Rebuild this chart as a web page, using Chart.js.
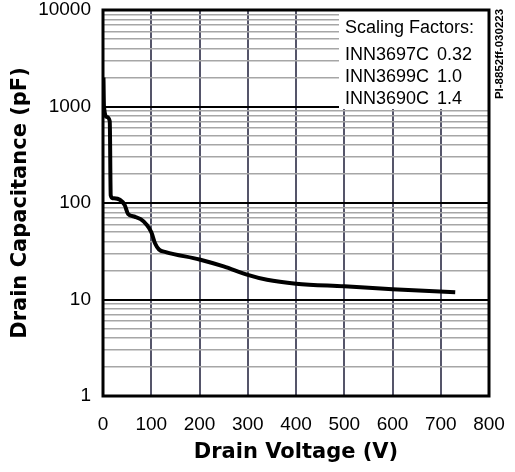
<!DOCTYPE html>
<html>
<head>
<meta charset="utf-8">
<script src="https://cdn.jsdelivr.net/npm/chart.js@4.4.1/dist/chart.umd.min.js"></script>
<style>
  html, body { margin: 0; padding: 0; background: #fff; }
  #wrap { width: 515px; height: 472px; position: relative; }
</style>
</head>
<body>
<div id="wrap"><canvas id="chart"></canvas></div>
<script>
// curve (V, pF)
const drainVoltage = [1, 2, 8, 14, 16, 20, 35, 45, 52, 66, 78, 90, 100, 108, 116, 130, 200, 250, 300, 340, 400, 500, 600, 730];
const drainCap = [2000, 1000, 780, 700, 120, 112, 108, 95, 77, 72, 68, 60, 50, 38, 33, 31, 26, 22, 18, 16, 14.6, 13.7, 12.8, 11.9];

const yMajor = [1, 10, 100, 1000, 10000];
const xStep = 100;

const partNames = ['INN3697C', 'INN3699C', 'INN3690C'];
const scaleFactors = ['0.32', '1.0', '1.4'];
const legendTitle = 'Scaling Factors:';
const figureId = 'PI-8852ff-030223';

const tickFont = { family: "'Liberation Sans', Arial, sans-serif", size: 19 };
const titleFont = { family: "'DejaVu Sans', Verdana, sans-serif", size: 21, weight: 'bold' };

const isMajor = v => yMajor.includes(v);

const frameAndNotes = {
  id: 'frameAndNotes',
  beforeDatasetsDraw(chart) {
    const { ctx, chartArea: a } = chart;
    // scaling factors box, sits over the grid in the top right corner
    ctx.save();
    ctx.fillStyle = '#fff';
    ctx.fillRect(a.right - 150, a.top, 150, 99);
    ctx.fillStyle = '#000';
    ctx.font = "18px 'Liberation Sans', Arial, sans-serif";
    ctx.textBaseline = 'alphabetic';
    ctx.fillText(legendTitle, a.right - 144, a.top + 23);
    partNames.forEach((name, i) => {
      ctx.fillText(name, a.right - 144, a.top + 50 + i * 22);
      ctx.fillText(scaleFactors[i], a.right - 52, a.top + 50 + i * 22);
    });
    ctx.restore();
  },
  afterDraw(chart) {
    const { ctx, chartArea: a } = chart;
    ctx.save();
    ctx.strokeStyle = '#000';
    ctx.lineWidth = 3;
    ctx.strokeRect(a.left, a.top, a.right - a.left, a.bottom - a.top);
    // figure id on the right edge
    ctx.translate(a.right + 11, a.top + 44);
    ctx.rotate(-Math.PI / 2);
    ctx.font = "bold 11.5px 'Liberation Sans', Arial, sans-serif";
    ctx.textAlign = 'center';
    ctx.textBaseline = 'middle';
    ctx.fillText(figureId, 0, 0);
    ctx.restore();
  }
};

new Chart(document.getElementById('chart'), {
  type: 'line',
  data: {
    datasets: [{
      data: drainVoltage.map((v, i) => ({ x: v, y: drainCap[i] })),
      borderColor: '#000',
      borderWidth: 4,
      pointRadius: 0,
      cubicInterpolationMode: 'monotone',
      fill: false
    }]
  },
  options: {
    responsive: true,
    maintainAspectRatio: false,
    animation: false,
    layout: { padding: { top: 10, right: 26, bottom: 0, left: 0 } },
    plugins: {
      legend: { display: false },
      tooltip: { enabled: false }
    },
    scales: {
      x: {
        type: 'linear',
        min: 0,
        max: 800,
        ticks: { stepSize: xStep, font: tickFont, color: '#000', padding: 17, maxRotation: 0 },
        grid: { color: '#55556a', lineWidth: 2, drawTicks: false },
        border: { display: false },
        title: { display: true, text: 'Drain Voltage (V)', font: titleFont, color: '#000', padding: { top: 0, bottom: 7 } },
        afterFit: s => { s.height = 76; s.paddingLeft = 0; s.paddingRight = 0; }
      },
      y: {
        type: 'logarithmic',
        min: 1,
        max: 10000,
        afterBuildTicks: s => {
          const t = [];
          yMajor.slice(0, -1).forEach(d => {
            for (let k = 1; k < 10; k++) t.push({ value: d * k });
          });
          t.push({ value: yMajor[yMajor.length - 1] });
          s.ticks = t;
        },
        ticks: {
          autoSkip: false,
          font: tickFont,
          color: '#000',
          padding: 12,
          callback: v => isMajor(v) ? String(v) : ''
        },
        grid: {
          color: c => isMajor(c.tick.value) ? '#000' : '#a6a6a6',
          lineWidth: c => isMajor(c.tick.value) ? 2 : 1.5,
          drawTicks: false
        },
        border: { display: false },
        title: { display: true, text: 'Drain Capacitance (pF)', font: titleFont, color: '#000', padding: { top: 8, bottom: 0 } },
        afterFit: s => { s.width = 103; s.paddingTop = 0; s.paddingBottom = 0; }
      }
    }
  },
  plugins: [frameAndNotes]
});
</script>
</body>
</html>
